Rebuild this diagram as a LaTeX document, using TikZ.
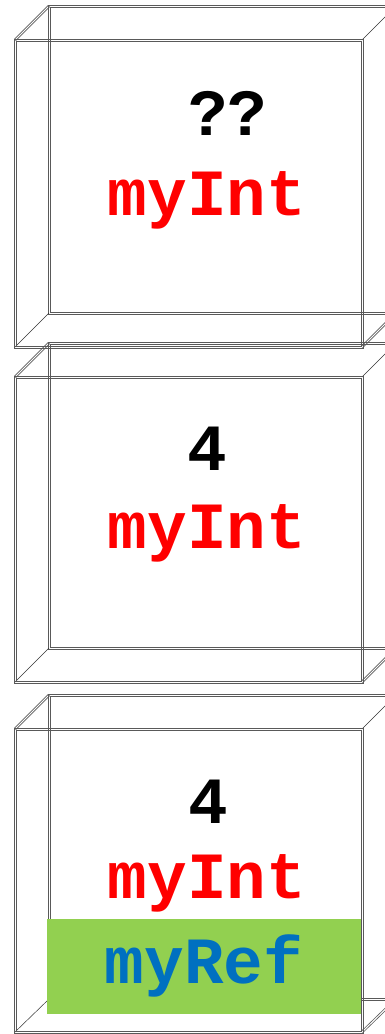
\documentclass[tikz,border=0pt]{standalone}
\usepackage{fontspec}
\newfontfamily\codefont{Liberation Mono}
\usepackage{xcolor}
\definecolor{namered}{HTML}{FF0000}
\definecolor{refblue}{HTML}{0070C0}
\definecolor{refgreen}{HTML}{92D050}

\begin{document}
\begin{tikzpicture}[x=1pt,y=-1pt,line cap=round,
  edge/.style={draw=black!65,line width=0.6pt},
  thinedge/.style={draw=black!80,line width=0.5pt},
  code/.style={font=\codefont\bfseries\fontsize{66}{66}\selectfont,anchor=base,inner sep=0pt}]
\clip (0,0) rectangle (385,1034);
% first box
\draw[edge] (48,5) rectangle (397,314);
\draw[edge] (50,7) rectangle (395,312);
\draw[edge] (14.3,39.3) -- (48.3,5.3);
\draw[edge] (15.7,40.7) -- (49.7,6.7);
\draw[edge] (361.3,346.3) -- (395.3,312.3);
\draw[edge] (362.7,347.7) -- (396.7,313.7);
\draw[thinedge] (15,347) -- (49,313);
\draw[thinedge] (362,40) -- (396,6);
\draw[edge] (14,39) rectangle (363,348);
\draw[edge] (16,41) rectangle (361,346);
\node[code] (val1) at (228,135) {??};
\node[code,text=namered] (name1) at (207,215) {myInt};
% second box
\draw[edge] (48,342) rectangle (397,649);
\draw[edge] (50,344) rectangle (395,647);
\draw[edge] (14.3,376.3) -- (48.3,342.3);
\draw[edge] (15.7,377.7) -- (49.7,343.7);
\draw[edge] (361.3,681.3) -- (395.3,647.3);
\draw[edge] (362.7,682.7) -- (396.7,648.7);
\draw[thinedge] (15,682) -- (49,648);
\draw[thinedge] (362,377) -- (396,343);
\draw[edge] (14,376) rectangle (363,683);
\draw[edge] (16,378) rectangle (361,681);
\node[code] (val2) at (207,470) {4};
\node[code,text=namered] (name2) at (207,548) {myInt};
% third box
\draw[edge] (48,694) rectangle (397,1000);
\draw[edge] (50,696) rectangle (395,998);
\draw[edge] (14.3,728.3) -- (48.3,694.3);
\draw[edge] (15.7,729.7) -- (49.7,695.7);
\draw[edge] (361.3,1031.3) -- (395.3,998.3);
\draw[edge] (362.7,1032.7) -- (396.7,999.7);
\draw[thinedge] (15,1032) -- (49,999);
\draw[thinedge] (362,729) -- (396,695);
\draw[edge] (14,728) rectangle (363,1033);
\draw[edge] (16,730) rectangle (361,1031);
\node[code] (val3) at (208,823) {4};
\node[code,text=namered] (name3) at (207,898) {myInt};
\fill[refgreen] (47,919) rectangle (361,1014);
\node[code,text=refblue] (ref3) at (204,983) {myRef};
\end{tikzpicture}
\end{document}
